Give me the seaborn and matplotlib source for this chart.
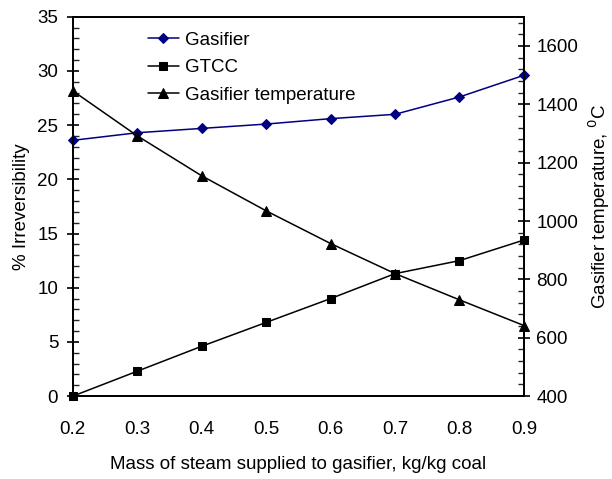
import matplotlib
matplotlib.use("Agg")
import matplotlib.pyplot as plt
import seaborn as sns
import pandas as pd
from matplotlib.ticker import MultipleLocator

sns.set_theme(style="white")
plt.rcParams['font.family'] = ['Liberation Sans', 'DejaVu Sans']
plt.rcParams['text.color'] = 'black'
plt.rcParams['axes.labelcolor'] = 'black'

steam = [0.2, 0.3, 0.4, 0.5, 0.6, 0.7, 0.8, 0.9]
gasifier = [23.6, 24.3, 24.7, 25.1, 25.6, 26.0, 27.6, 29.6]
gtcc = [0.0, 2.3, 4.6, 6.8, 9.0, 11.3, 12.5, 14.4]
gas_temp = [1446, 1292, 1155, 1035, 923, 820, 730, 642]

df = pd.DataFrame({"steam": steam, "gasifier": gasifier, "gtcc": gtcc, "temp": gas_temp})

fig = plt.figure(figsize=(6.12, 4.79), dpi=100)
ax = fig.add_axes([0.119, 0.173, 0.737, 0.792])
ax2 = ax.twinx()

sns.lineplot(data=df, x="steam", y="gasifier", ax=ax, color="#000080", marker="D",
             markersize=5.5, markeredgecolor="#000080", linewidth=1.1, label="Gasifier")
sns.lineplot(data=df, x="steam", y="gtcc", ax=ax, color="black", marker="s",
             markersize=6, markeredgecolor="black", linewidth=1.1, label="GTCC")
sns.lineplot(data=df, x="steam", y="temp", ax=ax2, color="black", marker="^",
             markersize=7, markeredgecolor="black", linewidth=1.1, label="Gasifier temperature",
             clip_on=False)
for line in ax.lines:
    line.set_clip_on(False)

ax.set_xlim(0.2, 0.9)
ax.set_ylim(0, 35)
ax2.set_ylim(400, 1700)
ax.set_xticks(steam)
ax.set_xticklabels([f"{v:.1f}" for v in steam])
ax.yaxis.set_major_locator(MultipleLocator(5))
ax.yaxis.set_minor_locator(MultipleLocator(1))
ax2.set_yticks([400, 600, 800, 1000, 1200, 1400, 1600])
ax2.yaxis.set_minor_locator(MultipleLocator(40))

fs = 13.5
ax.tick_params(axis="x", which="major", direction="inout", length=8, width=1.2,
               labelsize=fs, colors="black", pad=14)
ax.tick_params(axis="y", which="major", direction="inout", length=8, width=1.2,
               labelsize=fs, colors="black", pad=6.5)
ax.tick_params(axis="y", which="minor", direction="in", length=4, width=1.0, left=True)
ax2.tick_params(axis="y", which="major", direction="inout", length=8, width=1.2,
                labelsize=fs, colors="black", right=True, pad=5)
ax2.tick_params(axis="y", which="minor", direction="in", length=4, width=1.0, right=True)

for a in (ax, ax2):
    for s in a.spines.values():
        s.set_color("black")
        s.set_linewidth(1.3)

ax.set_xlabel("Mass of steam supplied to gasifier, kg/kg coal", fontsize=fs, labelpad=13)
ax.set_ylabel("% Irreversibility", fontsize=fs, labelpad=5)
ax2.set_ylabel("Gasifier temperature, $^{0}$C", fontsize=fs, labelpad=6)

h1, l1 = ax.get_legend_handles_labels()
h2, l2 = ax2.get_legend_handles_labels()
if ax2.get_legend():
    ax2.get_legend().remove()
ax.legend(h1 + h2, l1 + l2, loc="upper left", bbox_to_anchor=(0.137, 0.995), frameon=False,
          fontsize=fs, handlelength=1.65, handletextpad=0.35, labelspacing=0.55,
          borderaxespad=0.3)

fig.savefig("out.png", dpi=100)
